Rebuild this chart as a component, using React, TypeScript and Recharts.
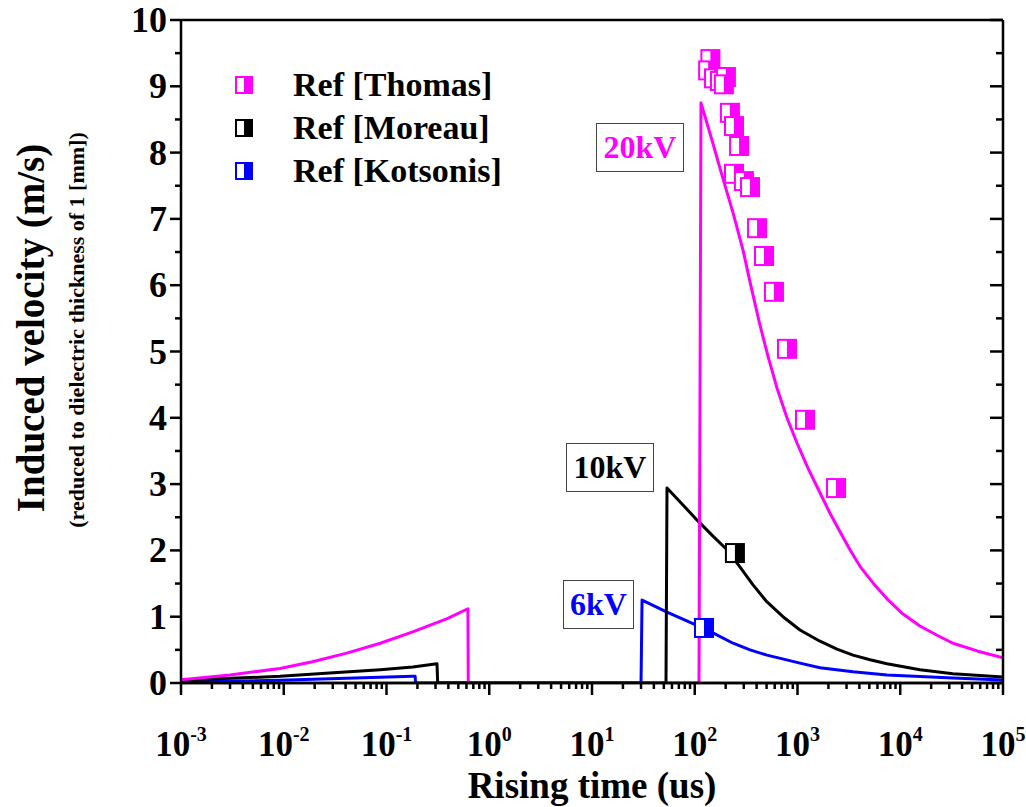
import { ComposedChart, Line, ReferenceLine, Scatter, XAxis, YAxis } from "recharts";

const FONT = '"Liberation Serif", "Times New Roman", serif';
const MAGENTA = "#ff00ff";
const BLACK = "#000000";
const BLUE = "#0000ff";

// x ticks (log axis, decades + minors)
const decades = [0.001, 0.01, 0.1, 1, 10, 100, 1000, 10000, 100000];
const decadeExp = ["-3", "-2", "-1", "0", "1", "2", "3", "4", "5"];
const minorSteps = [2, 3, 4, 5, 6, 7, 8, 9];
const xTicks = decades.flatMap((d, i) => (i === decades.length - 1 ? [d] : [d, ...minorSteps.map(m => d * m)]));

const yTicks = [0, 0.5, 1, 1.5, 2, 2.5, 3, 3.5, 4, 4.5, 5, 5.5, 6, 6.5, 7, 7.5, 8, 8.5, 9, 9.5, 10];

// model curves, t = rising time (us), v = velocity (m/s)
const curve20kV = [
  { t: 0.001, v: 0.05 },
  { t: 0.003, v: 0.12 },
  { t: 0.0092, v: 0.22 },
  { t: 0.019, v: 0.32 },
  { t: 0.041, v: 0.45 },
  { t: 0.087, v: 0.6 },
  { t: 0.18, v: 0.77 },
  { t: 0.39, v: 0.97 },
  { t: 0.62, v: 1.12 },
  { t: 0.625, v: 0 },
  { t: 110, v: 0 },
  { t: 115, v: 8.75 },
  { t: 147, v: 8.19 },
  { t: 184, v: 7.66 },
  { t: 236, v: 7.09 },
  { t: 295, v: 6.53 },
  { t: 352, v: 5.99 },
  { t: 431, v: 5.4 },
  { t: 516, v: 4.93 },
  { t: 631, v: 4.45 },
  { t: 790, v: 4.0 },
  { t: 989, v: 3.62 },
  { t: 1265, v: 3.24 },
  { t: 1655, v: 2.87 },
  { t: 2072, v: 2.56 },
  { t: 2593, v: 2.28 },
  { t: 3243, v: 2.01 },
  { t: 4058, v: 1.76 },
  { t: 5430, v: 1.51 },
  { t: 7430, v: 1.27 },
  { t: 10640, v: 1.04 },
  { t: 15560, v: 0.86 },
  { t: 22790, v: 0.72 },
  { t: 32600, v: 0.6 },
  { t: 57100, v: 0.48 },
  { t: 100000, v: 0.38 }
];

const curve10kV = [
  { t: 0.001, v: 0.04 },
  { t: 0.003, v: 0.07 },
  { t: 0.0092, v: 0.1 },
  { t: 0.028, v: 0.15 },
  { t: 0.087, v: 0.2 },
  { t: 0.18, v: 0.24 },
  { t: 0.31, v: 0.29 },
  { t: 0.315, v: 0 },
  { t: 52.5, v: 0 },
  { t: 53.7, v: 2.94 },
  { t: 75.2, v: 2.7 },
  { t: 105, v: 2.46 },
  { t: 147, v: 2.23 },
  { t: 206, v: 2.01 },
  { t: 275, v: 1.75 },
  { t: 369, v: 1.48 },
  { t: 493, v: 1.24 },
  { t: 722, v: 1.0 },
  { t: 1057, v: 0.8 },
  { t: 1655, v: 0.63 },
  { t: 2422, v: 0.51 },
  { t: 3467, v: 0.42 },
  { t: 5080, v: 0.35 },
  { t: 7430, v: 0.29 },
  { t: 15560, v: 0.2 },
  { t: 32600, v: 0.14 },
  { t: 100000, v: 0.09 }
];

const curve6kV = [
  { t: 0.001, v: 0.02 },
  { t: 0.0092, v: 0.04 },
  { t: 0.041, v: 0.07 },
  { t: 0.18, v: 0.1 },
  { t: 0.19, v: 0.1 },
  { t: 0.192, v: 0 },
  { t: 30, v: 0 },
  { t: 30.7, v: 1.25 },
  { t: 53.7, v: 1.07 },
  { t: 105, v: 0.87 },
  { t: 157, v: 0.74 },
  { t: 236, v: 0.6 },
  { t: 345, v: 0.5 },
  { t: 505, v: 0.42 },
  { t: 1057, v: 0.3 },
  { t: 1655, v: 0.23 },
  { t: 3467, v: 0.17 },
  { t: 7430, v: 0.12 },
  { t: 32600, v: 0.075 },
  { t: 100000, v: 0.045 }
];

// reference measurements
const thomas = [
  { t: 142, v: 9.41 },
  { t: 135, v: 9.24 },
  { t: 154, v: 9.12 },
  { t: 176, v: 9.08 },
  { t: 201, v: 9.14 },
  { t: 192, v: 9.03 },
  { t: 220, v: 8.6 },
  { t: 241, v: 8.4 },
  { t: 270, v: 8.1 },
  { t: 241, v: 7.68 },
  { t: 301, v: 7.57 },
  { t: 345, v: 7.48 },
  { t: 404, v: 6.86 },
  { t: 472, v: 6.44 },
  { t: 590, v: 5.9 },
  { t: 790, v: 5.04 },
  { t: 1183, v: 3.97 },
  { t: 2371, v: 2.94 }
];
const moreau = [{ t: 246, v: 1.96 }];
const kotsonis = [{ t: 123, v: 0.83 }];

const legendItems = [
  { label: "Ref [Thomas]", color: MAGENTA },
  { label: "Ref [Moreau]", color: BLACK },
  { label: "Ref [Kotsonis]", color: BLUE }
];

const halfSquare = (color: string) => (props: any) => {
  const { cx, cy } = props;
  return (
    <g>
      <rect x={cx - 9} y={cy - 9} width={18} height={18} fill="#fff" stroke={color} strokeWidth={2} />
      <rect x={cx} y={cy - 9} width={9} height={18} fill={color} />
    </g>
  );
};

const BottomTick = (props: any) => {
  const { x, y, payload } = props;
  const i = decades.indexOf(payload.value);
  const major = i >= 0;
  return (
    <g>
      <line x1={x} x2={x} y1={y} y2={y + (major ? 12 : 6)} stroke="#000" strokeWidth={2.5} />
      {major && (
        <text x={x} y={y + 73} textAnchor="middle" fontFamily={FONT} fontWeight="bold" fontSize={35} fill="#000">
          10
          <tspan dy={-15} fontSize={20}>
            {decadeExp[i]}
          </tspan>
        </text>
      )}
    </g>
  );
};

const TopTick = (props: any) => {
  const { x, y, payload } = props;
  const major = decades.indexOf(payload.value) >= 0;
  return <line x1={x} x2={x} y1={y} y2={y + (major ? 13 : 7)} stroke="#000" strokeWidth={2.5} />;
};

const LeftTick = (props: any) => {
  const { x, y, payload } = props;
  const major = Number.isInteger(payload.value);
  return (
    <g>
      <line x1={x} x2={x - (major ? 11 : 6)} y1={y} y2={y} stroke="#000" strokeWidth={2.5} />
      {major && (
        <text x={x - 14} y={y + 12} textAnchor="end" fontFamily={FONT} fontWeight="bold" fontSize={36} fill="#000">
          {payload.value}
        </text>
      )}
    </g>
  );
};

const RightTick = (props: any) => {
  const { x, y, payload } = props;
  const major = Number.isInteger(payload.value);
  return <line x1={x} x2={x - (major ? 13 : 7)} y1={y} y2={y} stroke="#000" strokeWidth={2.5} />;
};

const boxStyle = (left: number, top: number, w: number, h: number, color: string): React.CSSProperties => ({
  position: "absolute",
  left,
  top,
  width: w,
  height: h,
  border: "1.5px solid #444",
  background: "#fff",
  color,
  fontFamily: FONT,
  fontWeight: "bold",
  fontSize: 32,
  display: "flex",
  alignItems: "center",
  justifyContent: "center",
  boxSizing: "border-box"
});

export default function App() {
  const axisLine = { stroke: "#000", strokeWidth: 2.5 };
  return (
    <div style={{ position: "absolute", left: 0, top: 0, width: 1026, height: 807, fontFamily: FONT }}>
      <ComposedChart width={1026} height={807} margin={{ top: 0, right: 18, bottom: 0, left: 0 }}>
        <XAxis
          xAxisId="bottom"
          dataKey="t"
          type="number"
          scale="log"
          domain={[0.001, 100000]}
          allowDataOverflow
          ticks={xTicks}
          interval={0}
          height={124}
          tickSize={0}
          tickMargin={0}
          axisLine={axisLine}
          tickLine={false}
          tick={<BottomTick />}
        />
        <XAxis
          xAxisId="top"
          orientation="top"
          type="number"
          scale="log"
          domain={[0.001, 100000]}
          allowDataOverflow
          ticks={xTicks}
          interval={0}
          height={20}
          tickSize={0}
          tickMargin={0}
          axisLine={axisLine}
          tickLine={false}
          tick={<TopTick />}
        />
        <YAxis
          yAxisId="left"
          type="number"
          domain={[0, 10]}
          allowDataOverflow
          ticks={yTicks}
          interval={0}
          width={181}
          tickSize={0}
          tickMargin={0}
          axisLine={axisLine}
          tickLine={false}
          tick={<LeftTick />}
        />
        <YAxis
          yAxisId="right"
          orientation="right"
          type="number"
          domain={[0, 10]}
          allowDataOverflow
          ticks={yTicks}
          interval={0}
          width={5}
          tickSize={0}
          tickMargin={0}
          axisLine={axisLine}
          tickLine={false}
          tick={<RightTick />}
        />
        <Line xAxisId="bottom" yAxisId="left" data={curve6kV} dataKey="v" type="linear" stroke={BLUE} strokeWidth={3} strokeLinejoin="round" dot={false} isAnimationActive={false} />
        <Line xAxisId="bottom" yAxisId="left" data={curve10kV} dataKey="v" type="linear" stroke={BLACK} strokeWidth={3} strokeLinejoin="round" dot={false} isAnimationActive={false} />
        <Line xAxisId="bottom" yAxisId="left" data={curve20kV} dataKey="v" type="linear" stroke={MAGENTA} strokeWidth={3} strokeLinejoin="round" dot={false} isAnimationActive={false} />
        <ReferenceLine xAxisId="bottom" yAxisId="left" y={0} stroke="#000" strokeWidth={2.5} />
        <Scatter xAxisId="bottom" yAxisId="left" data={thomas} dataKey="v" shape={halfSquare(MAGENTA)} isAnimationActive={false} />
        <Scatter xAxisId="bottom" yAxisId="left" data={moreau} dataKey="v" shape={halfSquare(BLACK)} isAnimationActive={false} />
        <Scatter xAxisId="bottom" yAxisId="left" data={kotsonis} dataKey="v" shape={halfSquare(BLUE)} isAnimationActive={false} />
      </ComposedChart>

      {/* legend */}
      {legendItems.map((item, i) => (
        <div key={item.label} style={{ position: "absolute", left: 235, top: 65 + i * 43, height: 40, display: "flex", alignItems: "center" }}>
          <div
            style={{
              width: 18,
              height: 18,
              boxSizing: "border-box",
              border: `2px solid ${item.color}`,
              background: `linear-gradient(to right, #fff 50%, ${item.color} 50%)`
            }}
          />
          <span style={{ marginLeft: 40, fontSize: 34, fontWeight: "bold", color: "#000", whiteSpace: "nowrap" }}>{item.label}</span>
        </div>
      ))}

      {/* curve annotations */}
      <div style={boxStyle(596, 123, 88, 49, MAGENTA)}>20kV</div>
      <div style={boxStyle(566, 443, 88, 49, BLACK)}>10kV</div>
      <div style={boxStyle(563, 580, 71, 49, BLUE)}>6kV</div>

      {/* axis titles */}
      <div
        style={{
          position: "absolute",
          left: 30,
          top: 328,
          transform: "translate(-50%, -50%) rotate(-90deg)",
          fontSize: 39,
          fontWeight: "bold",
          whiteSpace: "nowrap"
        }}
      >
        Induced velocity (m/s)
      </div>
      <div
        style={{
          position: "absolute",
          left: 77,
          top: 330,
          transform: "translate(-50%, -50%) rotate(-90deg)",
          fontSize: 22,
          fontWeight: "bold",
          whiteSpace: "nowrap"
        }}
      >
        (reduced to dielectric thickness of 1 [mm])
      </div>
      <div
        style={{
          position: "absolute",
          left: 592,
          top: 786,
          transform: "translate(-50%, -50%)",
          fontSize: 37,
          lineHeight: "40px",
          fontWeight: "bold",
          whiteSpace: "nowrap"
        }}
      >
        Rising time (us)
      </div>
    </div>
  );
}
